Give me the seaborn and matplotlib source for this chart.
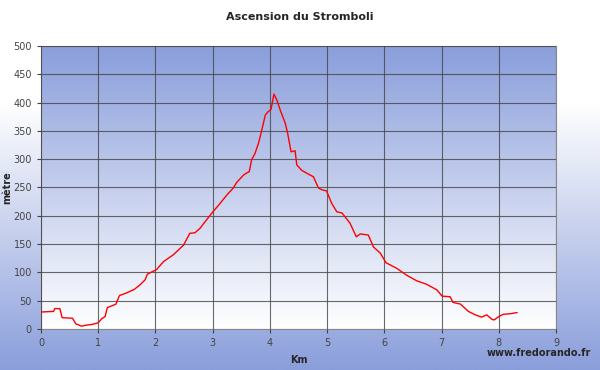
import matplotlib
matplotlib.use("Agg")
import matplotlib.pyplot as plt
import numpy as np
import pandas as pd
import seaborn as sns
from matplotlib.colors import LinearSegmentedColormap

# distance (km) and altitude (m) read from the profile
km = [0, 0.2, 0.22, 0.24, 0.33, 0.37, 0.55, 0.61, 0.71, 0.77, 0.89, 1.0, 1.06, 1.12,
      1.16, 1.24, 1.31, 1.37, 1.50, 1.63, 1.73, 1.82, 1.86, 1.96, 2.02, 2.14, 2.31,
      2.49, 2.60, 2.69, 2.78, 2.84, 2.98, 3.13, 3.25, 3.36, 3.42, 3.54, 3.60, 3.64,
      3.68, 3.74, 3.80, 3.86, 3.92, 3.97, 4.02, 4.07, 4.12, 4.18, 4.27, 4.31, 4.37,
      4.44, 4.47, 4.56, 4.65, 4.76, 4.85, 4.91, 4.99, 5.08, 5.17, 5.26, 5.40, 5.51,
      5.58, 5.72, 5.81, 5.93, 6.03, 6.22, 6.39, 6.57, 6.74, 6.92, 7.01, 7.15, 7.20,
      7.33, 7.47, 7.59, 7.70, 7.79, 7.88, 7.92, 8.00, 8.08, 8.20, 8.32]
metre = [30, 31, 31, 36, 36, 20, 19, 9, 5, 6.5, 8, 11, 18, 22,
         38, 41, 44, 59, 64, 70, 78, 87, 97, 102, 105, 119, 131,
         148, 169, 170, 178, 186, 204, 222, 237, 249, 259, 272, 276, 278,
         299, 310, 328, 352, 378, 384, 388, 415, 405, 387, 363, 346, 313,
         315, 290, 280, 275, 269, 249, 246, 244, 222, 207, 205, 187, 163,
         168, 166, 145, 134, 117, 107, 95, 85, 79, 69, 58, 57, 47,
         44, 31, 25, 21, 25, 17, 16, 22, 26, 27, 29]
x_ticks = list(range(0, 10))
y_ticks = list(range(0, 501, 50))

BLUE = "#8a9edb"

df = pd.DataFrame({"km": km, "metre": metre})

sns.set_style("white")
fig = plt.figure(figsize=(6, 3.7), dpi=100)

# figure background: white at top to blue at bottom
bg = fig.add_axes([0, 0, 1, 1], zorder=-10)
bg_cmap = LinearSegmentedColormap.from_list("bg", [(0, "white"), (0.28, "white"), (1, BLUE)])
bg.imshow(np.linspace(0, 1, 256).reshape(-1, 1), aspect="auto", cmap=bg_cmap,
          extent=[0, 1, 0, 1], origin="upper")
bg.axis("off")

ax = fig.add_axes([41 / 600, 1 - 329 / 370, 515 / 600, 283 / 370])
ax_cmap = LinearSegmentedColormap.from_list("ax", [BLUE, "white"])
ax.imshow(np.linspace(0, 1, 256).reshape(-1, 1), aspect="auto", cmap=ax_cmap,
          extent=[0, 9, 0, 500], origin="upper", zorder=0)

sns.lineplot(data=df, x="km", y="metre", ax=ax, color="red", linewidth=1.0, zorder=3)

ax.set_xlim(0, 9)
ax.set_ylim(0, 500)
ax.set_xticks(x_ticks)
ax.set_yticks(y_ticks)
ax.tick_params(labelsize=7, colors="#444444", length=3, width=0.8, direction="out",
               bottom=True, left=True)
ax.grid(True, color="#444444", linewidth=0.8, alpha=0.8, zorder=1)
ax.set_axisbelow(False)
for side, sp in ax.spines.items():
    sp.set_color("#888888")
    sp.set_linewidth(0.8)

ax.set_xlabel("Km", fontsize=7, fontweight="bold")
ax.xaxis.set_label_coords(0.5, -26 / 283)
ax.set_ylabel("mètre", fontsize=7, fontweight="bold")
ax.yaxis.set_label_coords(-29 / 515, 0.5)
fig.text(0.5, 1 - 17 / 370, "Ascension du Stromboli", ha="center", va="center",
         fontsize=8, fontweight="bold")
fig.text(591 / 600, 1 - 353 / 370, "www.fredorando.fr", ha="right", va="center",
         fontsize=7, fontweight="bold")

fig.savefig("out.png", dpi=100)
